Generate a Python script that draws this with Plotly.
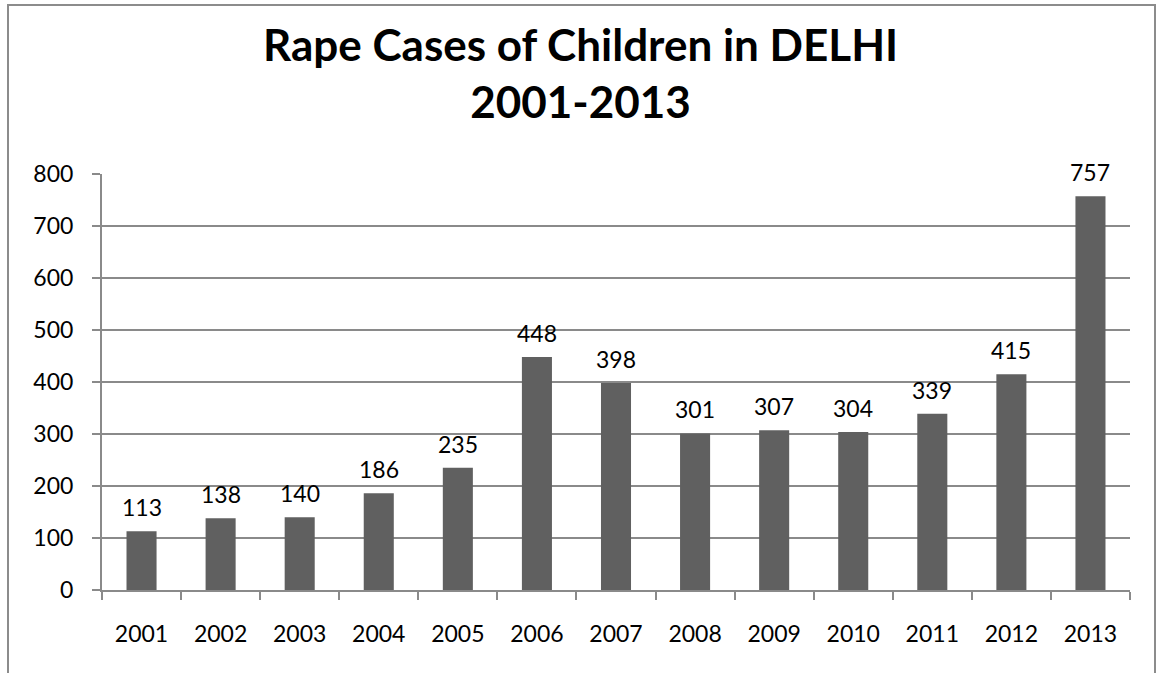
import plotly.graph_objects as go

years = ["2001", "2002", "2003", "2004", "2005", "2006", "2007",
         "2008", "2009", "2010", "2011", "2012", "2013"]
cases = [113, 138, 140, 186, 235, 448, 398, 301, 307, 304, 339, 415, 757]

W, H = 1160, 673
L, R, T, B = 102, 30, 174, 83
FONT = "Lato"
GRID = "#8a8a8a"

fig = go.Figure(
    go.Bar(
        x=years,
        y=cases,
        marker=dict(color="#606060", line=dict(width=0)),
        hoverinfo="x+y",
    )
)

# value labels above each bar (category index keeps the axis from reading "2001" as a number)
for i, v in enumerate(cases):
    fig.add_annotation(
        x=i, y=v, text=str(v), showarrow=False,
        yanchor="bottom", yshift=8,
        font=dict(family=FONT, size=23, color="#000000"),
    )

# pixel -> paper conversion for the decorations outside the plot area
pw, ph = W - L - R, H - T - B
def px_x(x):
    return (x - L) / pw
def px_y(y):
    return (H - B - y) / ph

# chart title
fig.add_annotation(
    xref="paper", yref="paper",
    x=px_x(W / 2), y=px_y(16), xanchor="center", yanchor="top",
    text="<b>Rape Cases of Children in DELHI<br>2001-2013</b>",
    showarrow=False,
    font=dict(family=FONT, size=44, color="#000000"),
)

# chart-area border
fig.add_shape(
    type="rect", xref="paper", yref="paper",
    x0=px_x(8), x1=px_x(1155), y0=px_y(700), y1=px_y(5),
    line=dict(color="#8c8c8c", width=2), fillcolor="rgba(0,0,0,0)",
    layer="below",
)

fig.update_layout(
    width=W, height=H,
    margin=dict(l=L, r=R, t=T, b=B),
    paper_bgcolor="white", plot_bgcolor="white",
    bargap=0.62,
    showlegend=False,
    xaxis=dict(
        type="category",
        range=[-0.5, len(years) - 0.5],
        tickson="boundaries",
        ticks="outside", ticklen=8, tickwidth=2, tickcolor=GRID,
        showline=True, linecolor=GRID, linewidth=2,
        showgrid=False,
        tickangle=0,
        ticklabelstandoff=22,
        tickfont=dict(family=FONT, size=23, color="#000000"),
    ),
    yaxis=dict(
        range=[0, 800], dtick=100,
        ticks="outside", ticklen=8, tickwidth=2, tickcolor=GRID,
        showline=True, linecolor=GRID, linewidth=2,
        showgrid=True, gridcolor=GRID, gridwidth=2,
        zeroline=False,
        ticklabelstandoff=14,
        tickfont=dict(family=FONT, size=23, color="#000000"),
    ),
)

fig.write_html("out.html")
